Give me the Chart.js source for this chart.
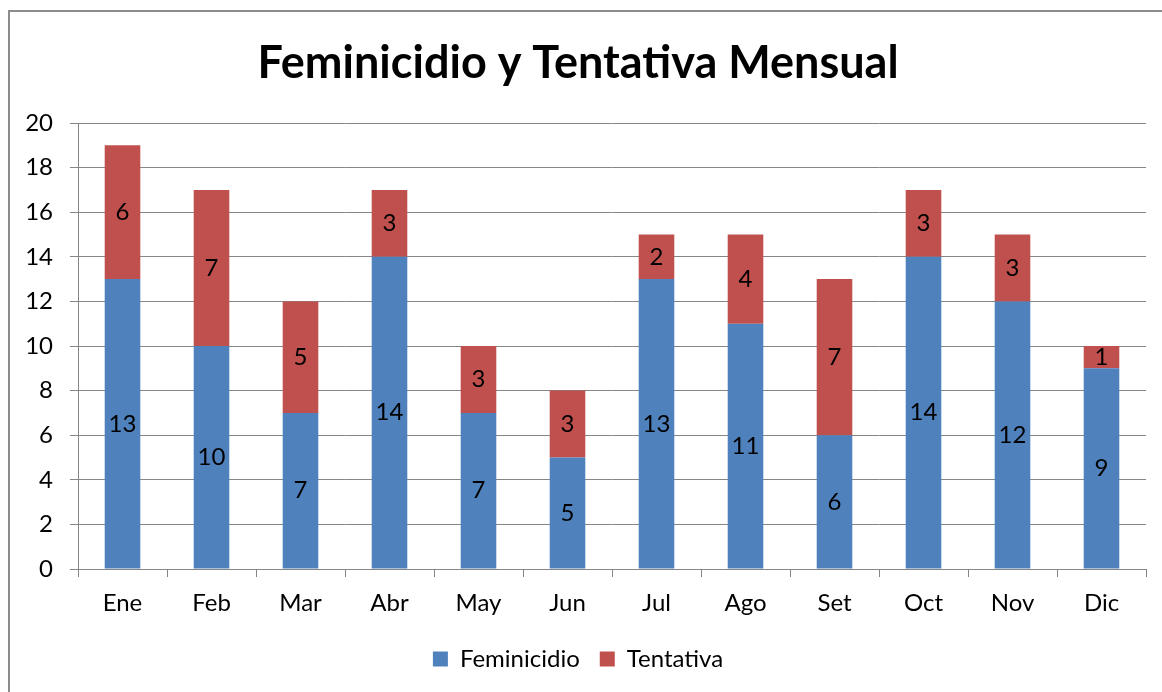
<!DOCTYPE html>
<html>
<head>
<meta charset="utf-8">
<script src="https://cdn.jsdelivr.net/npm/chart.js@4/dist/chart.umd.min.js"></script>
<style>
  html, body { margin: 0; padding: 0; background: #fff; }
  #wrap { position: relative; width: 1162px; height: 692px; }
</style>
</head>
<body>
<div id="wrap"><canvas id="mensualChart" width="1162" height="692"></canvas></div>
<script>
// Data
const meses       = ['Ene', 'Feb', 'Mar', 'Abr', 'May', 'Jun', 'Jul', 'Ago', 'Set', 'Oct', 'Nov', 'Dic'];
const feminicidio = [13, 10, 7, 14, 7, 5, 13, 11, 6, 14, 12, 9];
const tentativa   = [6, 7, 5, 3, 3, 3, 2, 4, 7, 3, 3, 1];

const FONT = "Lato, 'Open Sans', sans-serif";
const GRID = '#868686';

// outer frame (the chart box is cut off at right and bottom)
const framePlugin = {
  id: 'frame',
  beforeDraw(chart) {
    const c = chart.ctx;
    c.save();
    c.fillStyle = '#fff';
    c.fillRect(0, 0, chart.width, chart.height);
    c.strokeStyle = '#8c8c8c';
    c.lineWidth = 2;
    c.beginPath();
    c.moveTo(9, chart.height + 5);
    c.lineTo(9, 11);
    c.lineTo(chart.width + 5, 11);
    c.stroke();
    c.restore();
  }
};

// value labels in the middle of each segment
const valueLabels = {
  id: 'valueLabels',
  afterDatasetsDraw(chart) {
    const c = chart.ctx;
    c.save();
    c.font = '24px ' + FONT;
    c.fillStyle = '#000';
    c.textAlign = 'center';
    c.textBaseline = 'middle';
    chart.data.datasets.forEach((ds, i) => {
      chart.getDatasetMeta(i).data.forEach((bar, j) => {
        c.fillText(ds.data[j], bar.x, (bar.y + bar.base) / 2);
      });
    });
    c.restore();
  }
};

const ctx = document.getElementById('mensualChart').getContext('2d');
const mensualChart = new Chart(ctx, {
  type: 'bar',
  data: {
    labels: meses,
    datasets: [
      {
        label: 'Feminicidio',
        data: feminicidio,
        backgroundColor: '#4F81BD',
        barPercentage: 0.4,
        categoryPercentage: 1
      },
      {
        label: 'Tentativa',
        data: tentativa,
        backgroundColor: '#C0504D',
        barPercentage: 0.4,
        categoryPercentage: 1
      }
    ]
  },
  options: {
    responsive: false,
    animation: false,
    events: [],
    layout: { padding: { left: 10, right: 16, top: 10, bottom: 11 } },
    scales: {
      x: {
        stacked: true,
        afterFit(scale) { scale.height = 58; },
        grid: { drawOnChartArea: false, color: GRID, tickLength: 8, offset: true },
        border: { color: GRID, width: 1 },
        ticks: { color: '#000', font: { family: FONT, size: 24 }, padding: 12 }
      },
      y: {
        stacked: true,
        min: 0,
        max: 20,
        afterFit(scale) { scale.width = 68; },
        grid: { color: GRID, tickLength: 8 },
        border: { color: GRID, width: 1 },
        ticks: { stepSize: 2, color: '#000', font: { family: FONT, size: 24 }, padding: 17 }
      }
    },
    plugins: {
      title: {
        display: true,
        text: 'Feminicidio y Tentativa Mensual',
        color: '#000',
        font: { family: FONT, size: 45, weight: 'bold' },
        padding: { top: 26, bottom: 33 }
      },
      legend: {
        position: 'bottom',
        labels: {
          color: '#000',
          font: { family: FONT, size: 24 },
          boxWidth: 15,
          boxHeight: 15,
          padding: 20
        }
      },
      tooltip: { enabled: false }
    }
  },
  plugins: [framePlugin, valueLabels]
});
</script>
</body>
</html>
